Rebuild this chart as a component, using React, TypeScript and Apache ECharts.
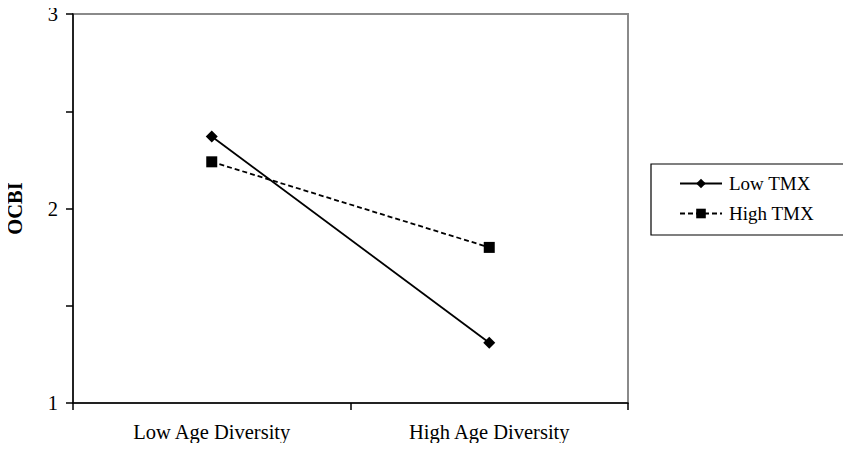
import React, { useEffect, useRef } from "react";
import * as echarts from "echarts";

const categories = ["Low Age Diversity", "High Age Diversity"];
const lowTMX = [2.37, 1.31];
const highTMX = [2.24, 1.8];
const yLabels = [1, 2, 3];

const FONT = "'Liberation Serif', 'Times New Roman', serif";

export default function App() {
  const ref = useRef<HTMLDivElement>(null);
  useEffect(() => {
    if (!ref.current) return;
    const chart = echarts.init(ref.current, undefined, { renderer: "svg" });
    chart.setOption({
      animation: false,
      backgroundColor: "#ffffff",
      grid: {
        left: 73,
        right: 223,
        top: 14,
        bottom: 48,
        containLabel: false,
        outerBoundsMode: "none",
        show: true,
        borderColor: "#8a8a8a",
        borderWidth: 2,
        backgroundColor: "transparent",
      },
      legend: {
        orient: "vertical",
        left: 651,
        top: 164,
        padding: [10, 31, 12, 28],
        itemGap: 11,
        itemWidth: 42,
        itemHeight: 12,
        borderColor: "#000",
        borderWidth: 1.2,
        textStyle: { fontFamily: FONT, fontSize: 19, color: "#000", padding: [0, 0, 0, 2] },
        data: ["Low TMX", "High TMX"],
      },
      xAxis: {
        type: "category",
        data: categories,
        boundaryGap: true,
        axisLine: { lineStyle: { color: "#000", width: 1.5 } },
        axisTick: { show: true, length: 7, inside: false, lineStyle: { color: "#000", width: 1.5 } },
        axisLabel: { fontFamily: FONT, fontSize: 20.5, color: "#000", margin: 18 },
      },
      yAxis: {
        type: "value",
        min: 1,
        max: 3,
        interval: 0.5,
        name: "OCBI",
        nameLocation: "middle",
        nameGap: 48,
        nameTextStyle: { fontFamily: FONT, fontSize: 20.5, fontWeight: "bold", color: "#000" },
        axisLine: { show: true, lineStyle: { color: "#000", width: 1.5 } },
        axisTick: { show: true, length: 7, lineStyle: { color: "#000", width: 1.5 } },
        splitLine: { show: false },
        axisLabel: {
          fontFamily: FONT,
          fontSize: 20.5,
          color: "#000",
          margin: 15,
          formatter: (v: number) => (yLabels.includes(v) ? String(v) : ""),
        },
      },
      series: [
        {
          name: "Low TMX",
          type: "line",
          data: lowTMX,
          symbol: "diamond",
          symbolSize: 12,
          itemStyle: { color: "#000" },
          lineStyle: { color: "#000", width: 1.8, type: "solid" },
        },
        {
          name: "High TMX",
          type: "line",
          data: highTMX,
          symbol: "rect",
          symbolSize: 11,
          itemStyle: { color: "#000" },
          lineStyle: { color: "#000", width: 1.8, type: [5, 3] },
        },
      ],
    });
    return () => chart.dispose();
  }, []);
  return <div ref={ref} style={{ width: 851, height: 451, margin: -8 }} />;
}
